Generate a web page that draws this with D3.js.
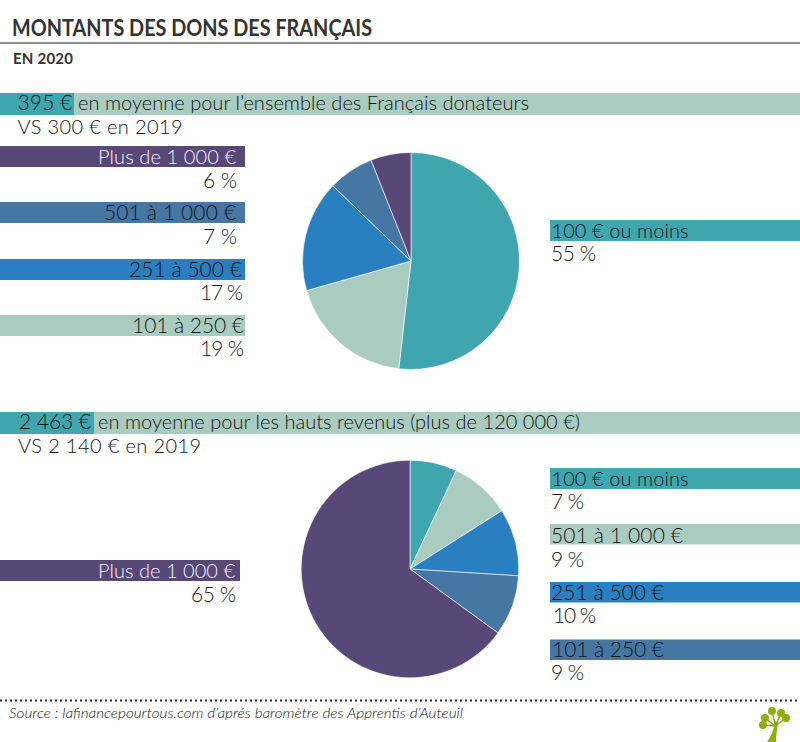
<!DOCTYPE html>
<html>
<head>
<meta charset="utf-8">
<script src="https://cdn.jsdelivr.net/npm/d3@7"></script>
<style>
  html, body { margin: 0; padding: 0; background: #fff; }
  text { font-family: "Lato", "Open Sans", sans-serif; }
</style>
</head>
<body>
<svg id="chart" width="800" height="742" style="display:block"></svg>
<script>
const PURPLE = "#574878", STEEL = "#4677a3", BLUE = "#2a7fc0", SAGE = "#a9cbc0", TEAL = "#3fa6b0";
const INK = "#141414", PALE = "#f4f2f8", GREEN = "#8fae0b";

// montants, ensemble des donateurs : parts lues sur le camembert, pas les % imprimes
const allLabels = ["100 € ou moins", "101 à 250 €", "251 à 500 €", "501 à 1 000 €", "Plus de 1 000 €"];
const allShares = [51.8, 18.8, 16.6, 6.8, 6.0];
const allPrinted = ["55 %", "19 %", "17 %", "7 %", "6 %"];
const allColors = [TEAL, SAGE, BLUE, STEEL, PURPLE];

// hauts revenus
const highLabels = ["100 € ou moins", "501 à 1 000 €", "251 à 500 €", "101 à 250 €", "Plus de 1 000 €"];
const highShares = [7, 9, 10, 9, 65];
const highPrinted = ["7 %", "9 %", "10 %", "9 %", "65 %"];
const highColors = [TEAL, SAGE, BLUE, STEEL, PURPLE];

const svg = d3.select("#chart");

function drawPie(cx, cy, r, shares, colors) {
    const pie = d3.pie().sort(null);
    const arc = d3.arc().innerRadius(0).outerRadius(r);
    svg.append("g").attr("transform", `translate(${cx},${cy})`)
        .selectAll("path").data(pie(shares)).join("path")
        .attr("d", arc)
        .attr("fill", (d, i) => colors[i])
        .attr("stroke", "#fff").attr("stroke-width", 0.6);
}

// the original font is wider than Lato, so each label is stretched to its measured width
function label(x, y, str, width, size = 21, fill = INK) {
    svg.append("text").attr("x", x).attr("y", y)
        .attr("font-size", size).attr("font-weight", 300)
        .attr("textLength", width).attr("lengthAdjust", "spacing")
        .style("fill", fill)
        .text(str);
}

function bar(x, y, w, h, color) {
    svg.append("rect").attr("x", x).attr("y", y).attr("width", w).attr("height", h).attr("fill", color);
}

function headline(y, split, amount, amountX, amountW, rest, restX, restW, sub, subX, subW) {
    bar(0, y, 800, 22, SAGE);
    bar(0, y, split, 22, TEAL);
    label(amountX, y + 17, amount, amountW);
    label(restX, y + 17, rest, restW, 20);
    label(subX, y + 41, sub, subW, 20);
}

// title block
svg.append("text").attr("x", 12).attr("y", 36).attr("font-size", 22).attr("font-weight", 700)
    .attr("textLength", 360).attr("lengthAdjust", "spacingAndGlyphs")
    .style("fill", "#333").text("MONTANTS DES DONS DES FRANÇAIS");
svg.append("line").attr("x1", 0).attr("x2", 800).attr("y1", 43).attr("y2", 43).attr("stroke", "#666").attr("stroke-width", 1.5);
svg.append("text").attr("x", 13).attr("y", 63.5).attr("font-size", 15).attr("font-weight", 700)
    .attr("textLength", 60).style("fill", "#333").text("EN 2020");

// ensemble des donateurs
headline(93, 74, "395 €", 17.5, 55, "en moyenne pour l’ensemble des Français donateurs", 78, 451, "VS 300 € en 2019", 17.5, 165);
drawPie(411, 261, 108.5, allShares, allColors);

bar(0, 146, 245, 21, allColors[4]);
label(98, 164, allLabels[4], 138, 20, PALE);
label(203, 188, allPrinted[4], 34);
bar(0, 202, 245, 21, allColors[3]);
label(104, 220, allLabels[3], 132);
label(203, 244, allPrinted[3], 34);
bar(0, 259, 245, 21, allColors[2]);
label(129, 277, allLabels[2], 113);
label(200, 300, allPrinted[2], 43);
bar(0, 315, 245, 21, allColors[1]);
label(132, 333, allLabels[1], 112);
label(200, 356, allPrinted[1], 44);

bar(550, 220, 250, 21, allColors[0]);
label(551.5, 238, allLabels[0], 137, 20);
label(551, 261, allPrinted[0], 45);

// hauts revenus
headline(412, 94, "2 463 €", 19, 72, "en moyenne pour les hauts revenus (plus de 120 000 €)", 98, 482, "VS 2 140 € en 2019", 18, 183);
drawPie(410, 569, 108.8, highShares, highColors);

bar(0, 560, 240, 21, highColors[4]);
label(98, 578, highLabels[4], 137, 20, PALE);
label(191, 602, highPrinted[4], 45);

bar(550, 468, 250, 21, highColors[0]);
label(551.5, 486, highLabels[0], 137, 20);
label(551, 509, highPrinted[0], 33);
bar(550, 524, 250, 20.5, highColors[1]);
label(551, 543, highLabels[1], 132);
label(551, 567, highPrinted[1], 33);
bar(550, 582, 250, 20.5, highColors[2]);
label(551, 600, highLabels[2], 113);
label(553, 623, highPrinted[2], 43);
bar(550, 639.5, 250, 20.5, highColors[3]);
label(552, 657, highLabels[3], 112);
label(551, 680, highPrinted[3], 33);

// footer
svg.append("line").attr("x1", 0).attr("x2", 800).attr("y1", 700.5).attr("y2", 700.5)
    .attr("stroke", "#333").attr("stroke-width", 2).attr("stroke-dasharray", "2 3");
svg.append("text").attr("x", 9).attr("y", 718).attr("font-size", 14).attr("font-style", "italic").attr("font-weight", 300)
    .attr("textLength", 454).attr("lengthAdjust", "spacingAndGlyphs").style("fill", INK)
    .text("Source : lafinancepourtous.com d’aprés baromètre des Apprentis d’Auteuil");

// petit arbre du logo
const tree = svg.append("g").attr("fill", GREEN).attr("stroke", GREEN);
tree.append("path").attr("stroke", "none")
    .attr("d", "M767 742 C771 736 774 730 775 721 L778 722 C777 730 776 736 776 742 Z");
[[772, 711], [781, 713], [786, 718], [765, 718], [763, 725]].forEach(c => {
    tree.append("line").attr("x1", 775.5).attr("y1", 726).attr("x2", c[0]).attr("y2", c[1]).attr("stroke-width", 1.5);
    tree.append("circle").attr("cx", c[0]).attr("cy", c[1]).attr("r", 4).attr("stroke", "none");
});
</script>
</body>
</html>
